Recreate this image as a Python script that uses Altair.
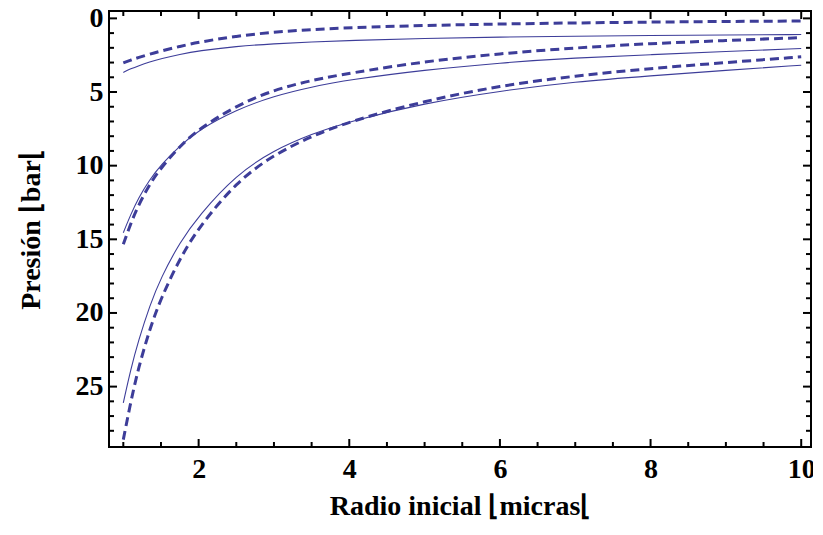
import altair as alt
import pandas as pd

# Radius grid (micras) and pressure readings (bar) for the six curves
radius = [1.0, 1.1, 1.2, 1.35, 1.5, 1.75, 2.0, 2.5, 3.0, 3.5, 4.0, 5.0, 6.0, 7.0, 8.0, 9.0, 10.0]

top_solid = [3.67, 3.42, 3.22, 2.96, 2.74, 2.44, 2.20, 1.90, 1.72, 1.60, 1.50, 1.36, 1.27, 1.21, 1.16, 1.13, 1.10]
top_dashed = [3.02, 2.83, 2.66, 2.43, 2.22, 1.90, 1.62, 1.20, 0.93, 0.76, 0.63, 0.48, 0.38, 0.31, 0.25, 0.21, 0.18]
mid_solid = [14.55, 13.3, 12.2, 10.95, 9.95, 8.65, 7.58, 6.20, 5.27, 4.65, 4.17, 3.50, 3.02, 2.68, 2.47, 2.25, 2.05]
mid_dashed = [15.34, 13.9, 12.7, 11.25, 10.15, 8.68, 7.52, 5.92, 4.85, 4.20, 3.72, 2.92, 2.39, 2.00, 1.71, 1.50, 1.31]
low_solid = [26.1, 23.8, 21.9, 19.5, 17.6, 15.2, 13.4, 10.6, 8.95, 7.85, 7.0, 5.75, 4.93, 4.30, 3.90, 3.53, 3.18]
low_dashed = [28.6, 26.0, 23.75, 21.1, 19.0, 16.3, 14.2, 11.1, 9.25, 8.0, 7.0, 5.6, 4.57, 3.90, 3.40, 3.00, 2.61]

curves = {
    ("top", "solid"): top_solid,
    ("top", "dashed"): top_dashed,
    ("mid", "solid"): mid_solid,
    ("mid", "dashed"): mid_dashed,
    ("low", "solid"): low_solid,
    ("low", "dashed"): low_dashed,
}

x_major = [2, 4, 6, 8, 10]
x_minor = [1, 1.5, 2.5, 3, 3.5, 4.5, 5, 5.5, 6.5, 7, 7.5, 8.5, 9, 9.5]
y_major = [0, 5, 10, 15, 20, 25]
y_minor = [1, 2, 3, 4, 6, 7, 8, 9, 11, 12, 13, 14, 16, 17, 18, 19, 21, 22, 23, 24, 26, 27, 28]

rows = []
for (name, style), vals in curves.items():
    for r, p in zip(radius, vals):
        rows.append({"r": r, "p": p, "curve": name + "_" + style, "style": style})
df = pd.DataFrame(rows)

W, H = 702, 436
COLOR = "#3d3d99"
FONT = "Liberation Serif"

xs = alt.Scale(domain=[0.81, 10.13], nice=False, zero=False)
ys = alt.Scale(domain=[-0.5, 29.1], nice=False, zero=False, reverse=True)

x_axis = alt.Axis(values=x_major, ticks=False, domain=False, grid=False,
                  labelFont=FONT, labelFontSize=28, labelFontWeight="bold",
                  labelColor="black", labelPadding=8, labelFlush=False,
                  title="Radio inicial ⌊micras⌊", titleFont=FONT, titleFontSize=28,
                  titleFontWeight="bold", titleColor="black", titlePadding=9)
y_axis = alt.Axis(values=y_major, ticks=False, domain=False, grid=False,
                  labelFont=FONT, labelFontSize=28, labelFontWeight="bold",
                  labelColor="black", labelPadding=6, labelFlush=False,
                  title="Presión ⌊bar⌊", titleFont=FONT, titleFontSize=28,
                  titleFontWeight="bold", titleColor="black", titlePadding=30)

base = alt.Chart(df)
solid = base.transform_filter("datum.style == 'solid'").mark_line(
    color=COLOR, strokeWidth=1.1, clip=True, interpolate="basis"
).encode(
    x=alt.X("r:Q", scale=xs, axis=x_axis),
    y=alt.Y("p:Q", scale=ys, axis=y_axis),
    detail="curve:N",
)
dashed = base.transform_filter("datum.style == 'dashed'").mark_line(
    color=COLOR, strokeWidth=3, strokeDash=[9, 5], clip=True, interpolate="basis"
).encode(
    x=alt.X("r:Q", scale=xs, axis=x_axis),
    y=alt.Y("p:Q", scale=ys, axis=y_axis),
    detail="curve:N",
)

def xticks(vals, length):
    d = pd.DataFrame({"r": vals})
    bottom = alt.Chart(d).mark_rule(color="black", strokeWidth=2).encode(
        x=alt.X("r:Q", scale=xs, axis=x_axis), y=alt.value(H), y2=alt.value(H - length))
    top = alt.Chart(d).mark_rule(color="black", strokeWidth=2).encode(
        x=alt.X("r:Q", scale=xs, axis=x_axis), y=alt.value(0), y2=alt.value(length))
    return [bottom, top]

def yticks(vals, length):
    d = pd.DataFrame({"p": vals})
    left = alt.Chart(d).mark_rule(color="black", strokeWidth=2).encode(
        y=alt.Y("p:Q", scale=ys, axis=y_axis), x=alt.value(0), x2=alt.value(length))
    right = alt.Chart(d).mark_rule(color="black", strokeWidth=2).encode(
        y=alt.Y("p:Q", scale=ys, axis=y_axis), x=alt.value(W), x2=alt.value(W - length))
    return [left, right]

layers = [solid, dashed] + xticks(x_major, 8) + xticks(x_minor, 5) + yticks(y_major, 8) + yticks(y_minor, 5)

chart = alt.layer(*layers).properties(
    width=W, height=H,
    autosize=alt.AutoSizeParams(type="none"),
    padding={"left": 101, "top": 3, "right": 2, "bottom": 76},
).configure(
    background="white",
    view=alt.ViewConfig(stroke="black", strokeWidth=2),
)

chart.save("out.html", embed_options={"renderer": "svg", "actions": False})
